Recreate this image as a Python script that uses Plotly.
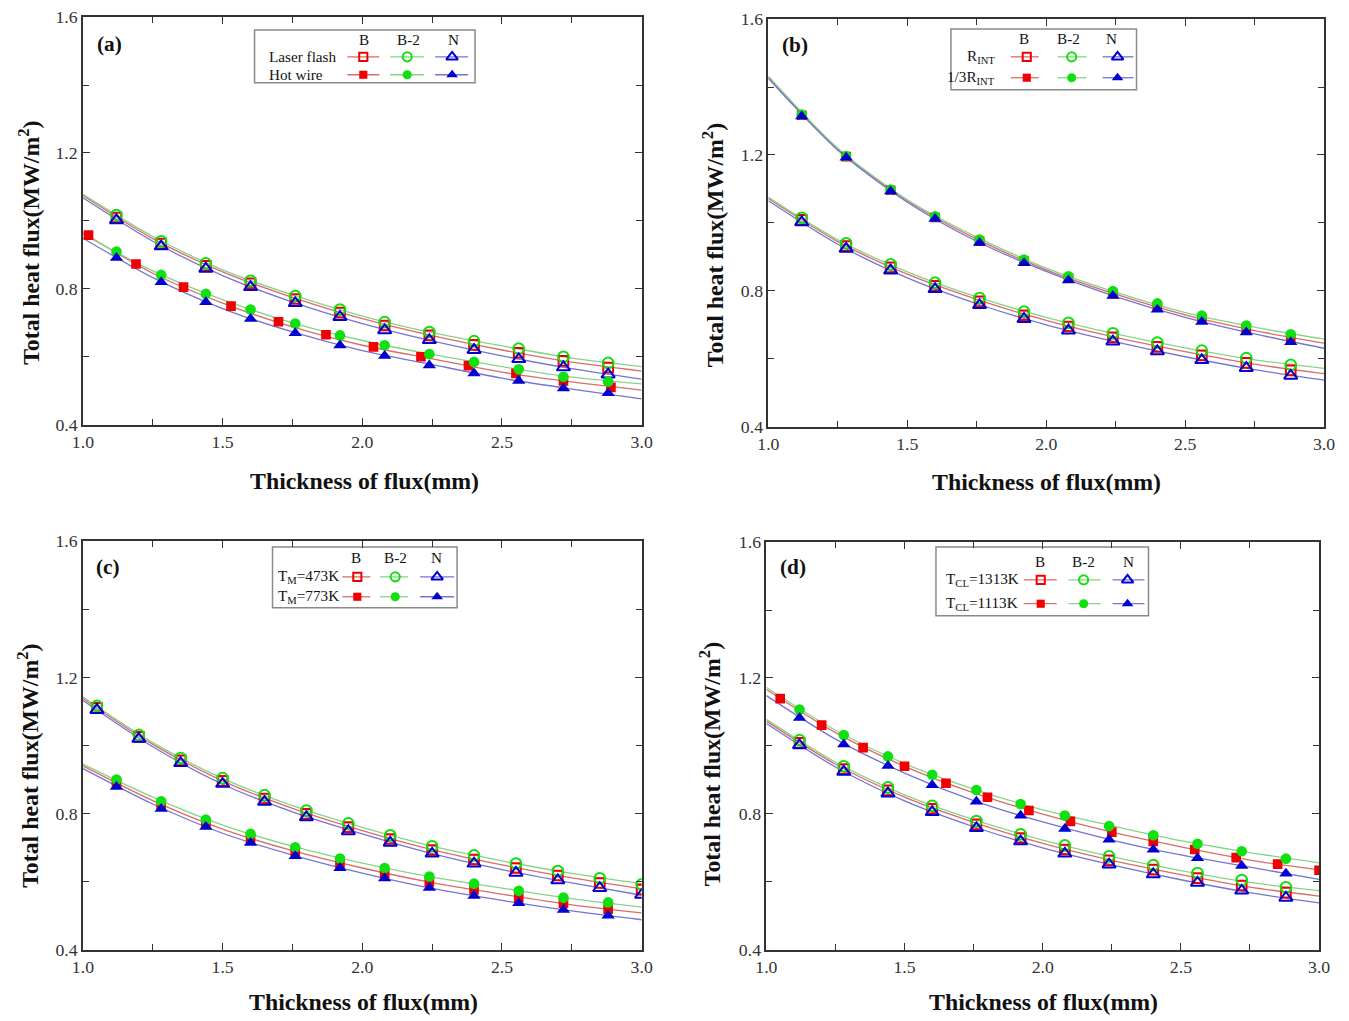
import plotly.graph_objects as go

# ---------------- data ----------------
X_GRID = [1.0, 1.25, 1.5, 1.75, 2.0, 2.25, 2.5, 2.75, 3.0]
X16 = [1.12, 1.28, 1.44, 1.60, 1.76, 1.92, 2.08, 2.24, 2.40, 2.56, 2.72, 2.88]
X17 = [1.02, 1.19, 1.36, 1.53, 1.70, 1.87, 2.04, 2.21, 2.38, 2.55, 2.72, 2.89]
X15 = [1.05, 1.20, 1.35, 1.50, 1.65, 1.80, 1.95, 2.10, 2.25, 2.40, 2.55, 2.70, 2.85, 3.00]

SERIES = ["B", "B-2", "N"]
X_TICKS = [1.0, 1.5, 2.0, 2.5, 3.0]
Y_TICKS = [0.4, 0.8, 1.2, 1.6]

# (a) Laser flash / Hot wire
a_laser_B = [1.010, 0.933, 0.868, 0.816, 0.770, 0.730, 0.692, 0.663, 0.635, 0.612, 0.588, 0.568]
a_laser_B2 = [1.017, 0.940, 0.875, 0.824, 0.779, 0.739, 0.702, 0.673, 0.646, 0.624, 0.600, 0.582]
a_laser_N = [1.002, 0.925, 0.859, 0.805, 0.758, 0.717, 0.678, 0.649, 0.620, 0.593, 0.569, 0.548]
a_hot_B = [0.958, 0.873, 0.805, 0.749, 0.703, 0.665, 0.629, 0.600, 0.574, 0.551, 0.529, 0.510]
a_hot_B2 = [0.910, 0.841, 0.785, 0.739, 0.698, 0.663, 0.634, 0.608, 0.585, 0.563, 0.541, 0.527]
a_hot_N = [0.891, 0.820, 0.761, 0.712, 0.670, 0.634, 0.603, 0.575, 0.551, 0.529, 0.507, 0.493]
a_fit_laser_B = [1.075, 0.948, 0.850, 0.775, 0.712, 0.662, 0.620, 0.584, 0.558]
a_fit_laser_B2 = [1.078, 0.954, 0.856, 0.782, 0.720, 0.671, 0.632, 0.596, 0.571]
a_fit_laser_N = [1.068, 0.940, 0.839, 0.761, 0.698, 0.647, 0.603, 0.565, 0.534]
a_fit_hot_B = [0.965, 0.846, 0.758, 0.688, 0.634, 0.594, 0.555, 0.526, 0.502]
a_fit_hot_B2 = [0.961, 0.853, 0.768, 0.700, 0.648, 0.607, 0.571, 0.540, 0.520]
a_fit_hot_N = [0.949, 0.833, 0.742, 0.673, 0.618, 0.577, 0.537, 0.505, 0.476]

# (b) R_INT / 1/3 R_INT
b_int_B = [1.009, 0.932, 0.869, 0.815, 0.769, 0.728, 0.695, 0.663, 0.635, 0.610, 0.588, 0.566]
b_int_B2 = [1.015, 0.940, 0.878, 0.824, 0.779, 0.739, 0.706, 0.675, 0.648, 0.624, 0.602, 0.582]
b_int_N = [1.002, 0.924, 0.860, 0.805, 0.758, 0.717, 0.683, 0.651, 0.622, 0.596, 0.573, 0.550]
b_third_B = [1.317, 1.195, 1.096, 1.016, 0.946, 0.887, 0.837, 0.792, 0.754, 0.718, 0.688, 0.661]
b_third_B2 = [1.319, 1.197, 1.098, 1.019, 0.951, 0.892, 0.843, 0.799, 0.763, 0.727, 0.698, 0.672]
b_third_N = [1.314, 1.192, 1.093, 1.012, 0.941, 0.882, 0.831, 0.785, 0.745, 0.709, 0.678, 0.649]
b_fit_int_B = [1.072, 0.945, 0.849, 0.775, 0.713, 0.663, 0.621, 0.584, 0.556]
b_fit_int_B2 = [1.075, 0.950, 0.856, 0.782, 0.722, 0.673, 0.632, 0.597, 0.572]
b_fit_int_N = [1.065, 0.937, 0.838, 0.762, 0.700, 0.650, 0.606, 0.568, 0.537]
b_fit_third_B = [1.428, 1.217, 1.065, 0.952, 0.862, 0.790, 0.729, 0.683, 0.646]
b_fit_third_B2 = [1.432, 1.220, 1.068, 0.958, 0.867, 0.796, 0.736, 0.693, 0.658]
b_fit_third_N = [1.425, 1.214, 1.061, 0.946, 0.857, 0.783, 0.722, 0.673, 0.631]

# (c) T_M = 473 K / 773 K
c_473_B = [1.110, 1.025, 0.956, 0.896, 0.844, 0.799, 0.760, 0.725, 0.693, 0.665, 0.640, 0.618, 0.596, 0.577]
c_473_B2 = [1.116, 1.031, 0.963, 0.904, 0.854, 0.809, 0.771, 0.736, 0.704, 0.677, 0.653, 0.631, 0.610, 0.592]
c_473_N = [1.104, 1.019, 0.948, 0.887, 0.834, 0.789, 0.748, 0.714, 0.682, 0.653, 0.626, 0.604, 0.581, 0.561]
c_773_B = [0.889, 0.825, 0.771, 0.727, 0.688, 0.654, 0.625, 0.599, 0.576, 0.553, 0.537, 0.519]
c_773_B2 = [0.900, 0.836, 0.782, 0.740, 0.701, 0.668, 0.640, 0.615, 0.594, 0.573, 0.553, 0.539]
c_773_N = [0.878, 0.814, 0.761, 0.714, 0.675, 0.640, 0.610, 0.582, 0.558, 0.537, 0.517, 0.500]
c_fit_473_B = [1.138, 1.003, 0.896, 0.815, 0.750, 0.694, 0.649, 0.611, 0.579]
c_fit_473_B2 = [1.142, 1.008, 0.903, 0.823, 0.759, 0.704, 0.661, 0.624, 0.594]
c_fit_473_N = [1.132, 0.996, 0.886, 0.805, 0.740, 0.682, 0.635, 0.596, 0.560]
c_fit_773_B = [0.940, 0.838, 0.754, 0.691, 0.640, 0.597, 0.563, 0.532, 0.508]
c_fit_773_B2 = [0.945, 0.848, 0.766, 0.704, 0.654, 0.613, 0.581, 0.550, 0.525]
c_fit_773_N = [0.932, 0.828, 0.742, 0.678, 0.625, 0.580, 0.545, 0.514, 0.488]

# (d) T_CL = 1313 K / 1113 K
d_1313_B = [1.009, 0.932, 0.869, 0.815, 0.769, 0.729, 0.695, 0.663, 0.636, 0.611, 0.589, 0.568]
d_1313_B2 = [1.017, 0.940, 0.878, 0.824, 0.779, 0.740, 0.707, 0.675, 0.649, 0.626, 0.605, 0.584]
d_1313_N = [1.002, 0.924, 0.860, 0.805, 0.758, 0.719, 0.683, 0.651, 0.622, 0.597, 0.574, 0.553]
d_1113_B = [1.139, 1.061, 0.995, 0.940, 0.890, 0.849, 0.810, 0.778, 0.746, 0.719, 0.695, 0.671, 0.652, 0.634]
d_1113_B2 = [1.107, 1.032, 0.969, 0.915, 0.870, 0.829, 0.795, 0.764, 0.737, 0.712, 0.690, 0.668]
d_1113_N = [1.083, 1.005, 0.941, 0.885, 0.836, 0.795, 0.756, 0.724, 0.695, 0.670, 0.647, 0.624]
d_fit_1313_B = [1.073, 0.946, 0.849, 0.775, 0.713, 0.663, 0.621, 0.584, 0.558]
d_fit_1313_B2 = [1.078, 0.952, 0.856, 0.783, 0.723, 0.674, 0.633, 0.598, 0.574]
d_fit_1313_N = [1.066, 0.938, 0.838, 0.762, 0.700, 0.650, 0.606, 0.568, 0.538]
d_fit_1113_B = [1.166, 1.039, 0.940, 0.862, 0.799, 0.746, 0.703, 0.664, 0.635]
d_fit_1113_B2 = [1.172, 1.046, 0.948, 0.873, 0.812, 0.765, 0.721, 0.686, 0.656]
d_fit_1113_N = [1.148, 1.020, 0.920, 0.839, 0.776, 0.723, 0.679, 0.643, 0.607]

PANEL_LABELS = ["(a)", "(b)", "(c)", "(d)"]
LEGEND_ROWS = [
    ["Laser flash", "Hot wire"],
    ["R<sub>INT</sub>", "1/3R<sub>INT</sub>"],
    ["T<sub>M</sub>=473K", "T<sub>M</sub>=773K"],
    ["T<sub>CL</sub>=1313K", "T<sub>CL</sub>=1113K"],
]
X_TITLE = "Thickness of flux(mm)"
Y_TITLE = "Total heat flux(MW/m<sup>2</sup>)"

# ---------------- style ----------------
# observed page rendering: shown = S * (figure_px + 8)
S = 0.986
OFF = 8
W, H = 1352, 1020
FONT = "Liberation Serif, Times New Roman, serif"
MCOL = {"B": "#f00000", "B-2": "#10e010", "N": "#0000d0"}
LCOL = {"B": "#dd6b6b", "B-2": "#86d486", "N": "#7474d6"}
SYM_OPEN = {"B": "square-open", "B-2": "circle-open", "N": "triangle-up-open"}
SYM_FILL = {"B": "square", "B-2": "circle", "N": "triangle-up"}
MSIZE = {"B": 9, "B-2": 10, "N": 11}

# panel boxes in target pixels: (left, right, top, bottom)
BOX = [(80, 640, 15, 425), (767, 1324, 17, 427), (80, 640, 542, 953), (765, 1319, 543, 953)]


def fx(p):
    return (p / S - OFF) / W


def fy(p):
    return 1 - (p / S - OFF) / H


def fs(v):
    return v / S


fig = go.Figure()

panels = [
    [
        (True, [X16, X16, X16], [a_laser_B, a_laser_B2, a_laser_N], [a_fit_laser_B, a_fit_laser_B2, a_fit_laser_N]),
        (False, [X17, X16, X16], [a_hot_B, a_hot_B2, a_hot_N], [a_fit_hot_B, a_fit_hot_B2, a_fit_hot_N]),
    ],
    [
        (True, [X16, X16, X16], [b_int_B, b_int_B2, b_int_N], [b_fit_int_B, b_fit_int_B2, b_fit_int_N]),
        (False, [X16, X16, X16], [b_third_B, b_third_B2, b_third_N], [b_fit_third_B, b_fit_third_B2, b_fit_third_N]),
    ],
    [
        (True, [X15, X15, X15], [c_473_B, c_473_B2, c_473_N], [c_fit_473_B, c_fit_473_B2, c_fit_473_N]),
        (False, [X16, X16, X16], [c_773_B, c_773_B2, c_773_N], [c_fit_773_B, c_fit_773_B2, c_fit_773_N]),
    ],
    [
        (True, [X16, X16, X16], [d_1313_B, d_1313_B2, d_1313_N], [d_fit_1313_B, d_fit_1313_B2, d_fit_1313_N]),
        (False, [X15, X16, X16], [d_1113_B, d_1113_B2, d_1113_N], [d_fit_1113_B, d_fit_1113_B2, d_fit_1113_N]),
    ],
]

layout_axes = {}
for i, groups in enumerate(panels):
    k = "" if i == 0 else str(i + 1)
    xa, ya = "x" + k, "y" + k
    for opn, xs, ys, fits in groups:
        for s, fit in zip(SERIES, fits):
            fig.add_trace(go.Scatter(x=X_GRID, y=fit, mode="lines", xaxis=xa, yaxis=ya,
                                     line=dict(color=LCOL[s], width=1.3, shape="spline", smoothing=0.8),
                                     showlegend=False, hoverinfo="skip"))
    for opn, xs, ys, fits in groups:
        for s, xv, yv in zip(SERIES, xs, ys):
            fig.add_trace(go.Scatter(
                x=xv, y=yv, mode="markers", xaxis=xa, yaxis=ya, showlegend=False,
                marker=dict(symbol=SYM_OPEN[s] if opn else SYM_FILL[s], size=fs(MSIZE[s] + 0.5), color=MCOL[s],
                            line=dict(color=MCOL[s], width=2 if opn else 0))))
    l, r, t, b = BOX[i]
    common = dict(showline=True, linecolor="#333", linewidth=1.6, mirror="allticks", ticks="inside",
                  ticklen=7, tickwidth=1.4, tickcolor="#333", showgrid=False, zeroline=False,
                  tickfont=dict(family=FONT, size=fs(17.5), color="#333"))
    layout_axes["xaxis" + k] = dict(common, domain=[fx(l), fx(r)], anchor=ya, range=[1.0, 3.0],
                                    tickvals=X_TICKS, tickformat=".1f",
                                    minor=dict(ticks="inside", ticklen=6, tickwidth=1.4, tickcolor="#333",
                                               tickvals=[1.25, 1.75, 2.25, 2.75], showgrid=False))
    layout_axes["yaxis" + k] = dict(common, domain=[fy(b), fy(t)], anchor=xa, range=[0.4, 1.6],
                                    tickvals=Y_TICKS, tickformat=".1f",
                                    minor=dict(ticks="inside", ticklen=6, tickwidth=1.4, tickcolor="#333",
                                               tickvals=[0.6, 1.0, 1.4], showgrid=False))

# overlay axis in target pixels for the legend samples
layout_axes["xaxis5"] = dict(domain=[0, 1], range=[OFF * S, (W + OFF) * S], visible=False, anchor="y5",
                             fixedrange=True)
layout_axes["yaxis5"] = dict(domain=[0, 1], range=[(H + OFF) * S, OFF * S], visible=False, anchor="x5",
                             fixedrange=True)

LEG = [
    dict(box=(252, 28, 473, 81), hy=38, rows=(55, 73), lab_x=264, lab_anchor="left",
         segs=[(345, 377), (388, 422), (433, 466)], mk=[361, 405, 450], hx=[362, 406, 451]),
    dict(box=(950, 27, 1136, 88), hy=37, rows=(55, 76), lab_x=996, lab_anchor="right",
         segs=[(1010, 1038), (1057, 1086), (1102, 1133)], mk=[1026, 1071, 1117], hx=[1023, 1068, 1111]),
    dict(box=(270, 548, 455, 609), hy=559, rows=(578, 598), lab_x=273, lab_anchor="left",
         segs=[(340, 368), (378, 406), (418, 452)], mk=[355, 393, 435], hx=[354, 393, 434]),
    dict(box=(935, 548, 1148, 617), hy=563, rows=(581, 605), lab_x=943, lab_anchor="left",
         segs=[(1023, 1056), (1068, 1100), (1112, 1144)], mk=[1040, 1083, 1127], hx=[1039, 1083, 1128]),
]

shapes = []
annotations = []
for i, lg in enumerate(LEG):
    x0, y0, x1, y1 = lg["box"]
    shapes.append(dict(type="rect", xref="paper", yref="paper", x0=fx(x0), x1=fx(x1), y0=fy(y1), y1=fy(y0),
                       line=dict(color="#8a8a8a", width=1.5), fillcolor="white", layer="below"))
    for s, hx in zip(SERIES, lg["hx"]):
        annotations.append(dict(text=s, x=fx(hx), y=fy(lg["hy"]), xref="paper", yref="paper", showarrow=False,
                                font=dict(family=FONT, size=fs(15), color="#111"), xanchor="center",
                                yanchor="middle"))
    for ri, ry in enumerate(lg["rows"]):
        annotations.append(dict(text=LEGEND_ROWS[i][ri], x=fx(lg["lab_x"]), y=fy(ry), xref="paper", yref="paper",
                                showarrow=False, font=dict(family=FONT, size=fs(15), color="#111"),
                                xanchor=lg["lab_anchor"], yanchor="middle"))
        for s, (sx0, sx1), mx in zip(SERIES, lg["segs"], lg["mk"]):
            fig.add_trace(go.Scatter(x=[sx0, sx1], y=[ry, ry], mode="lines", xaxis="x5", yaxis="y5",
                                     line=dict(color=LCOL[s], width=1.3), showlegend=False, hoverinfo="skip"))
            opn = ri == 0
            fig.add_trace(go.Scatter(x=[mx], y=[ry], mode="markers", xaxis="x5", yaxis="y5", showlegend=False,
                                     hoverinfo="skip",
                                     marker=dict(symbol=SYM_OPEN[s] if opn else SYM_FILL[s],
                                                 size=fs(MSIZE[s] - 1), color=MCOL[s],
                                                 line=dict(color=MCOL[s], width=2 if opn else 0))))

LABEL_POS = [(92, 42), (779, 43), (91, 568), (777, 568)]
XT_POS = [(362, 482), (1046, 483), (361, 1006), (1043, 1006)]
YT_POS = [(26, 242), (711, 244), (25, 768), (708, 766)]
for i in range(4):
    annotations.append(dict(text="<b>%s</b>" % PANEL_LABELS[i], x=fx(LABEL_POS[i][0]), y=fy(LABEL_POS[i][1]),
                            xref="paper", yref="paper", showarrow=False, xanchor="left", yanchor="middle",
                            font=dict(family=FONT, size=fs(21), color="#111")))
    annotations.append(dict(text="<b>%s</b>" % X_TITLE, x=fx(XT_POS[i][0]), y=fy(XT_POS[i][1]),
                            xref="paper", yref="paper", showarrow=False, xanchor="center", yanchor="middle",
                            font=dict(family=FONT, size=fs(23.5), color="#111")))
    annotations.append(dict(text="<b>%s</b>" % Y_TITLE, x=fx(YT_POS[i][0]), y=fy(YT_POS[i][1]),
                            xref="paper", yref="paper", showarrow=False, xanchor="center", yanchor="middle",
                            textangle=-90, font=dict(family=FONT, size=fs(23.5), color="#111")))

fig.update_layout(width=W, height=H, margin=dict(l=0, r=0, t=0, b=0), paper_bgcolor="white",
                  plot_bgcolor="rgba(0,0,0,0)", showlegend=False, shapes=shapes, annotations=annotations,
                  font=dict(family=FONT), **layout_axes)

fig.write_html("out.html")
